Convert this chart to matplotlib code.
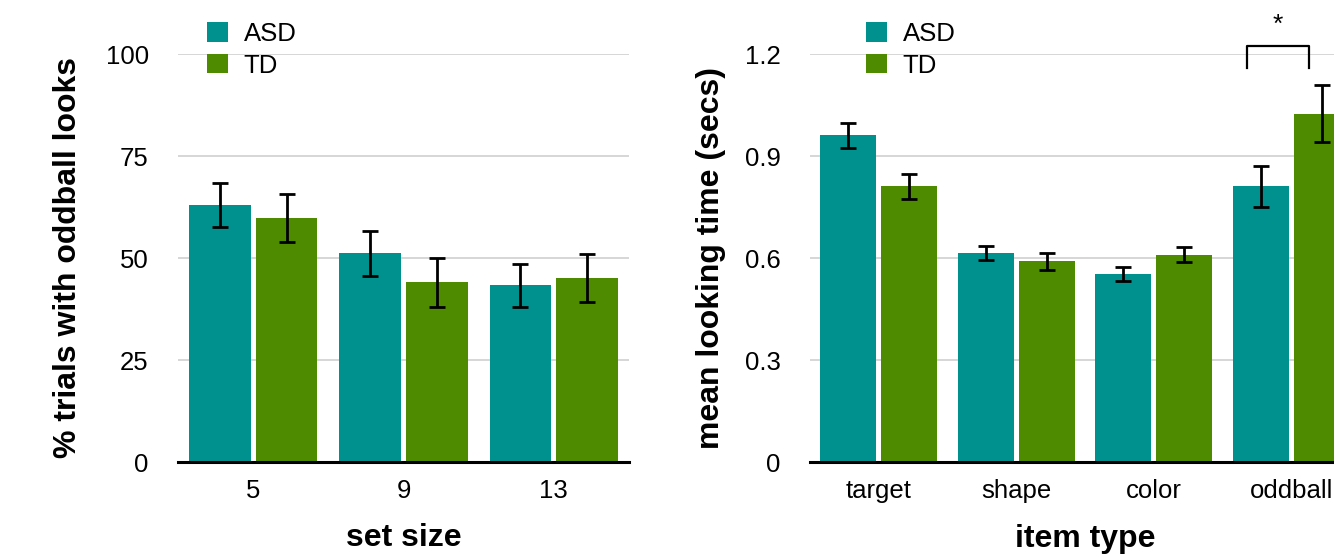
import numpy as np
import matplotlib.pyplot as plt
from matplotlib.patches import Patch

plt.rcParams['font.family'] = ['Liberation Sans', 'DejaVu Sans']

# left panel: % trials with oddball looks by set size
set_sizes = ['5', '9', '13']
asd_pct = [63.0, 51.2, 43.3]
asd_pct_err = [5.3, 5.5, 5.3]
td_pct = [59.7, 44.0, 45.2]
td_pct_err = [5.9, 5.9, 5.9]

# right panel: mean looking time by item type
item_types = ['target', 'shape', 'color', 'oddball']
asd_time = [0.961, 0.615, 0.553, 0.811]
asd_time_err = [0.036, 0.021, 0.020, 0.060]
td_time = [0.811, 0.591, 0.609, 1.024]
td_time_err = [0.037, 0.025, 0.022, 0.084]

ASD_COLOR = '#00918f'
TD_COLOR = '#4f8b00'
W = 1334
H = 556


def draw_panel(ax, labels, asd, asd_err, td, td_err, yticks, ytick_labels):
    x = np.arange(len(labels))
    off = 0.222
    bw = 0.41
    ekw = dict(elinewidth=2.0, capthick=2.0, ecolor='black')
    ax.bar(x - off, asd, bw, color=ASD_COLOR, yerr=asd_err, capsize=6,
           error_kw=ekw, zorder=2)
    ax.bar(x + off, td, bw, color=TD_COLOR, yerr=td_err, capsize=6,
           error_kw=ekw, zorder=2)
    ax.set_xlim(-0.5, len(labels) - 0.5)
    ax.set_ylim(0, yticks[-1])
    ax.set_xticks(x)
    ax.set_xticklabels(labels)
    ax.set_yticks(yticks)
    ax.set_yticklabels(ytick_labels)
    ax.tick_params(axis='both', length=0, labelsize=18.5)
    ax.tick_params(axis='y', pad=21)
    ax.tick_params(axis='x', pad=12)
    ax.grid(axis='y', color='#cccccc', linewidth=1.1, zorder=0)
    ax.set_axisbelow(True)
    for s in ['left', 'right', 'top']:
        ax.spines[s].set_visible(False)
    ax.spines['bottom'].set_linewidth(2.2)
    ax.spines['bottom'].set_zorder(3)


fig = plt.figure(figsize=(W / 100, H / 100), dpi=100)

ax1 = fig.add_axes([178 / W, (H - 462) / H, 451 / W, 408 / H])
draw_panel(ax1, set_sizes, asd_pct, asd_pct_err, td_pct, td_pct_err,
           [0, 25, 50, 75, 100], ['0', '25', '50', '75', '100'])
ax1.set_xlabel('set size', fontsize=23, fontweight='bold', labelpad=15)
ax1.set_ylabel('% trials with oddball looks', fontsize=23, fontweight='bold', labelpad=16)

ax2 = fig.add_axes([810 / W, (H - 462) / H, 550 / W, 408 / H])
draw_panel(ax2, item_types, asd_time, asd_time_err, td_time, td_time_err,
           [0, 0.3, 0.6, 0.9, 1.2], ['0', '0.3', '0.6', '0.9', '1.2'])
ax2.set_xlabel('item type', fontsize=23, fontweight='bold', labelpad=15)
ax2.set_ylabel('mean looking time (secs)', fontsize=23, fontweight='bold', labelpad=14)

# significance bracket over oddball
bx = [2.68, 2.68, 3.13, 3.13]
by = [1.158, 1.225, 1.225, 1.158]
ax2.plot(bx, by, color='black', linewidth=1.6, clip_on=False, zorder=4)
ax2.text(2.905, 1.287, '*', fontsize=19, ha='center', va='center', clip_on=False)

handles = [Patch(facecolor=ASD_COLOR, label='ASD'), Patch(facecolor=TD_COLOR, label='TD')]
for lx in [207, 866]:
    fig.legend(handles=handles, loc='upper left', bbox_to_anchor=(lx / W, 1 - 22 / H),
               frameon=False, fontsize=18.5, borderpad=0, borderaxespad=0,
               handlelength=0.82, handleheight=0.78, handletextpad=0.6,
               labelspacing=0.3)

fig.savefig('out.png', dpi=100)
